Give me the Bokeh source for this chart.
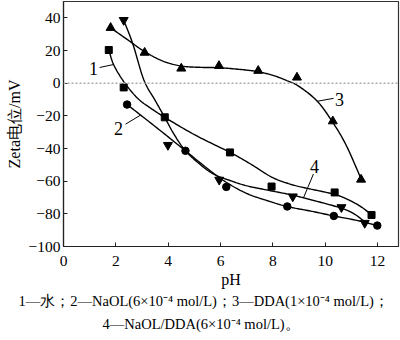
from bokeh.plotting import figure
from bokeh.models import Span, Title, FixedTicker
from bokeh.core.properties import value
from bokeh.embed import file_html
from bokeh.resources import INLINE
import numpy as np

# ---- measured points ----
s1_x = [1.73, 2.30, 3.87, 6.36, 7.95, 10.36, 11.77]
s1_y = [20.3, -2.6, -20.9, -42.4, -63.3, -66.9, -80.7]
s2_x = [2.43, 4.66, 6.22, 8.55, 10.33, 11.99]
s2_y = [-13.1, -41.4, -63.5, -75.5, -81.3, -87.2]
s3_x = [1.80, 3.10, 4.50, 5.94, 7.44, 8.92, 10.29, 11.37]
s3_y = [33.9, 18.7, 9.0, 10.6, 7.6, 3.5, -23.3, -59.0]
s4_x = [2.30, 3.99, 5.95, 8.76, 10.62, 11.51]
s4_y = [38.6, -37.9, -59.2, -69.4, -76.0, -85.6]

# ---- fitted trend curves ----
f1_x = [1.73, 1.92, 2.30, 2.82, 3.32, 3.87, 5.00, 6.36, 7.15, 7.95, 8.60, 9.20, 10.33, 10.90, 11.40, 11.77]
f1_y = [20.3, 11.2, 1.0, -9.1, -15.2, -20.9, -31.5, -42.4, -49.5, -57.5, -61.5, -64.0, -68.0, -71.5, -76.0, -80.7]
f2_x = [2.43, 3.50, 4.66, 5.40, 6.20, 7.00, 7.80, 8.55, 9.50, 10.33, 11.20, 11.99]
f2_y = [-13.1, -26.5, -41.4, -51.0, -60.5, -67.5, -72.0, -75.5, -78.5, -81.3, -84.0, -87.2]
f3_x = [1.80, 2.50, 3.10, 3.80, 4.50, 5.20, 6.00, 7.00, 7.50, 8.00, 8.50, 9.00, 9.70, 10.30, 10.80, 11.37]
f3_y = [33.9, 26.0, 19.3, 13.5, 10.5, 9.7, 9.4, 8.0, 6.8, 4.8, 1.8, -2.0, -11.1, -24.3, -38.0, -58.5]
f4_x = [2.30, 2.65, 3.07, 3.50, 3.87, 4.25, 4.66, 5.20, 5.74, 6.40, 7.02, 7.80, 8.74, 9.60, 10.59, 11.10, 11.54]
f4_y = [38.6, 24.0, 2.0, -10.5, -21.0, -32.0, -41.4, -49.5, -55.7, -59.8, -62.9, -65.5, -68.5, -72.0, -76.4, -80.0, -85.2]

x_ticks = [0, 2, 4, 6, 8, 10, 12]
y_ticks = [-100, -80, -60, -40, -20, 0, 20, 40]
series_labels = ["1", "2", "3", "4"]
caption_1 = "1\u2014\u6c34\uff1b2\u2014NaOL(6\u00d710\u207b\u2074 mol/L)\uff1b3\u2014DDA(1\u00d710\u207b\u2074 mol/L)\uff1b"
caption_2 = "4\u2014NaOL/DDA(6\u00d710\u207b\u2074 mol/L)\u3002"

SERIF = "Liberation Serif"


def smooth(xs, ys, n=16):
    pts = np.column_stack([xs, ys]).astype(float)
    P = np.vstack([2 * pts[0] - pts[1], pts, 2 * pts[-1] - pts[-2]])
    out = []
    for i in range(1, len(P) - 2):
        p0, p1, p2, p3 = P[i - 1], P[i], P[i + 1], P[i + 2]
        for t in np.linspace(0, 1, n, endpoint=False):
            t2, t3 = t * t, t * t * t
            out.append(0.5 * ((2 * p1) + (-p0 + p2) * t + (2 * p0 - 5 * p1 + 4 * p2 - p3) * t2
                              + (-p0 + 3 * p1 - 3 * p2 + p3) * t3))
    out.append(pts[-1])
    out = np.array(out)
    return out[:, 0], out[:, 1]


p = figure(width=400, height=340, x_range=(0, 12.8), y_range=(-100, 50),
           output_backend="svg", toolbar_location=None,
           min_border_left=63, min_border_right=2, min_border_top=1, min_border_bottom=94)
p.background_fill_color = "white"
p.border_fill_color = "white"
p.outline_line_color = "#333333"
p.outline_line_width = 1.2
p.grid.visible = False

for ax in (p.xaxis[0], p.yaxis[0]):
    ax.major_tick_in = 4
    ax.major_tick_out = 0
    ax.minor_tick_in = 0
    ax.minor_tick_out = 0
    ax.axis_line_color = "#222222"
    ax.axis_line_width = 1.2
    ax.major_tick_line_color = "#222222"
    ax.major_label_text_font = SERIF
    ax.major_label_text_font_size = "15.5px"
    ax.major_label_text_color = "black"
    ax.axis_label_text_font = SERIF
    ax.axis_label_text_font_size = "16px"
    ax.axis_label_text_font_style = "normal"
    ax.axis_label_text_color = "black"

p.xaxis.ticker = FixedTicker(ticks=x_ticks)
p.yaxis.ticker = FixedTicker(ticks=y_ticks)
p.xaxis.major_label_standoff = 9
p.yaxis.major_label_standoff = 3
p.xaxis.axis_label = "pH"
p.xaxis.axis_label_standoff = 2
p.yaxis.axis_label = "Zeta\u7535\u4f4d/mV"
p.yaxis.axis_label_standoff = 3
p.yaxis.major_label_overrides = {t: str(t).replace("-", "\u2212") for t in y_ticks}

p.add_layout(Span(location=0, dimension="width", line_color="#aaaaaa",
                  line_dash="2 2", line_width=1.5))

for fx, fy in ((f1_x, f1_y), (f2_x, f2_y), (f3_x, f3_y), (f4_x, f4_y)):
    sx, sy = smooth(fx, fy)
    p.line(sx, sy, line_color="black", line_width=1.4)

p.scatter(s1_x, s1_y, marker="square", size=7, color="black")
p.scatter(s2_x, s2_y, marker="circle", size=7.5, color="black")
p.scatter(s3_x, s3_y, marker="triangle", size=9, color="black")
p.scatter(s4_x, s4_y, marker="inverted_triangle", size=9, color="black")

# series labels with leader lines
lab_x = [1.15, 2.10, 10.55, 9.59]
lab_y = [9.0, -27.6, -9.9, -51.3]
lead_x0 = [1.38, 2.37, 9.69, 9.17]
lead_y0 = [9.6, -25.1, -11.1, -70.2]
lead_x1 = [1.91, 2.94, 10.32, 9.55]
lead_y1 = [11.4, -19.6, -9.3, -55.6]
p.segment(lead_x0, lead_y0, lead_x1, lead_y1, line_color="black", line_width=1)
p.text(lab_x, lab_y, text=series_labels, text_font=value(SERIF), text_font_size="18px",
       text_align="center", text_baseline="middle", text_color="black")

t1 = Title(text=caption_1, align="left", offset=-45, standoff=0,
           text_font=SERIF, text_font_size="14.5px", text_font_style="normal", text_color="black")
t2 = Title(text=caption_2, align="left", offset=39, standoff=10,
           text_font=SERIF, text_font_size="14.5px", text_font_style="normal", text_color="black")
p.add_layout(t1, "below")
p.add_layout(t2, "below")

open("out.html", "w").write(file_html(p, INLINE))
